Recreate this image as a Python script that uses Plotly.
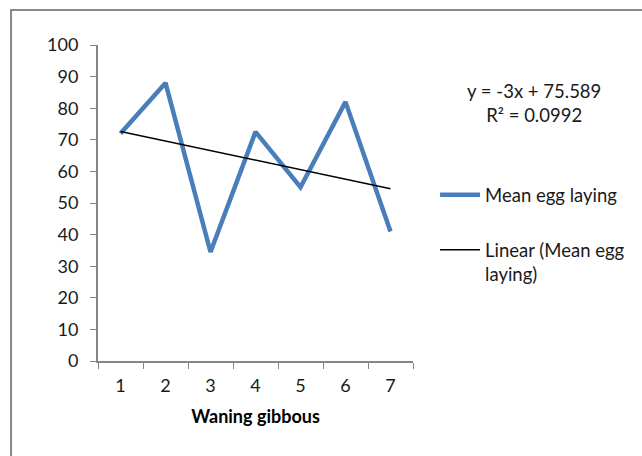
import numpy as np
import plotly.graph_objects as go

categories = ["1", "2", "3", "4", "5", "6", "7"]
mean_egg = [72, 88, 34.5, 72.5, 55, 82, 41]
y_ticks = [0, 10, 20, 30, 40, 50, 60, 70, 80, 90, 100]
x_title = "Waning gibbous"
series_name = "Mean egg laying"
trend_name = "Linear (Mean egg<br>laying)"
eq_text = "y = -3x + 75.589<br>R² = 0.0992"

xs = np.arange(1, len(mean_egg) + 1)
slope, intercept = np.polyfit(xs, mean_egg, 1)
trend = slope * xs + intercept

FONT = "Lato"
TXT = "#1a1a1a"
fig = go.Figure()
fig.add_trace(go.Scatter(x=categories, y=mean_egg, mode="lines", name=series_name,
                         line=dict(color="#4A7EBB", width=4.5), legendgroup="a"))
fig.add_trace(go.Scatter(x=categories, y=trend, mode="lines", name=trend_name,
                         line=dict(color="black", width=1.5), legendgroup="b"))

fig.update_layout(
    width=642, height=456,
    margin=dict(l=98, r=229, t=45, b=95),
    paper_bgcolor="white", plot_bgcolor="white",
    font=dict(family=FONT, size=18, color=TXT),
    showlegend=True,
    legend=dict(x=1.07, y=0.585, xanchor="left", yanchor="top", valign="top",
                traceorder="grouped", tracegroupgap=28,
                font=dict(family=FONT, size=18.5, color=TXT),
                bgcolor="rgba(0,0,0,0)", itemwidth=40),
    xaxis=dict(type="category", range=[-0.5, 6.5], tickson="boundaries", ticks="outside", ticklen=6,
               tickcolor="#868686", showline=True, linecolor="#868686", linewidth=2,
               showgrid=False, zeroline=False, ticklabelstandoff=7,
               tickfont=dict(family=FONT, size=18, color=TXT),
               title=dict(text="<b>" + x_title + "</b>", font=dict(family=FONT, size=18, color="black"),
                          standoff=16)),
    yaxis=dict(range=[0, 100], tickvals=y_ticks, ticks="outside", ticklen=6,
               tickcolor="#868686", showline=True, linecolor="#868686", linewidth=2,
               showgrid=False, zeroline=False, ticklabelstandoff=8,
               tickfont=dict(family=FONT, size=18, color=TXT)),
)
fig.add_shape(type="rect", xref="paper", yref="paper", x0=-0.276, x1=2.2, y0=-0.6, y1=1.111,
              line=dict(color="#888888", width=2), fillcolor="rgba(0,0,0,0)", layer="below")
fig.add_annotation(xref="paper", yref="paper", x=1.385, y=0.818, text=eq_text, showarrow=False,
                   align="center", xanchor="center", yanchor="middle",
                   font=dict(family=FONT, size=18.5, color=TXT))
fig.write_html("out.html")
